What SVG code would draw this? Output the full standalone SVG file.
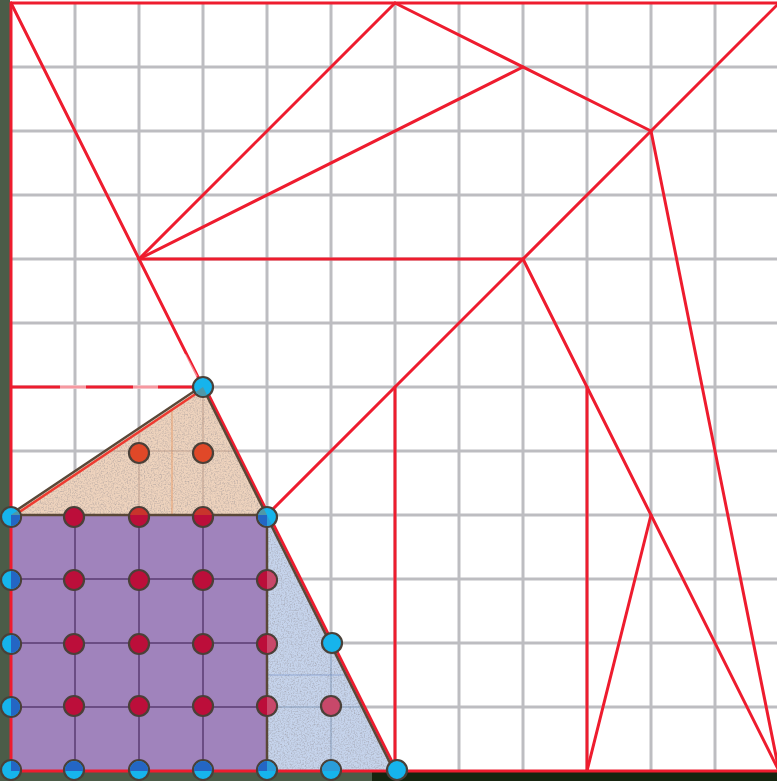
<svg xmlns="http://www.w3.org/2000/svg" width="777" height="781" viewBox="0 0 777 781">
<style>
.grid line{stroke:#bdbdc1;stroke-width:3}
.crease line{stroke:#ee1c2e;stroke-width:3;stroke-linecap:round}
.edge{stroke:#5a4838;stroke-width:2.5;fill:none;stroke-linecap:round}
.inner line{stroke:#6b4d84;stroke-width:2}
.dot{stroke:#4a4038;stroke-width:2.2}
.cy{fill:#16b4ec}
.rd{fill:#bc0e3a}
.or{fill:#e04828}
</style>
<defs>
<clipPath id="cSq"><rect x="11" y="515" width="256" height="256"/></clipPath>
<clipPath id="cBl"><polygon points="267,515 267,771 395,771"/></clipPath>
<clipPath id="cPe"><polygon points="11,515 203,387 267,515"/></clipPath>
<filter id="tex" x="0" y="0" width="100%" height="100%">
<feTurbulence type="fractalNoise" baseFrequency="0.7" numOctaves="2" seed="4" result="n"/>
<feColorMatrix in="n" type="matrix" values="0 0 0 0 0.3  0 0 0 0 0.28  0 0 0 0 0.3  1.4 0 0 0 -0.58" result="m"/>
<feComposite in="m" in2="SourceGraphic" operator="in" result="s"/>
<feMerge><feMergeNode in="SourceGraphic"/><feMergeNode in="s"/></feMerge>
</filter>
</defs>
<rect x="0" y="0" width="777" height="781" fill="#ffffff"/>
<g id="grid" class="grid">
<line x1="75" y1="3" x2="75" y2="771"/><line x1="139" y1="3" x2="139" y2="771"/><line x1="203" y1="3" x2="203" y2="771"/><line x1="267" y1="3" x2="267" y2="771"/><line x1="331" y1="3" x2="331" y2="771"/><line x1="395" y1="3" x2="395" y2="771"/><line x1="459" y1="3" x2="459" y2="771"/><line x1="523" y1="3" x2="523" y2="771"/><line x1="587" y1="3" x2="587" y2="771"/><line x1="651" y1="3" x2="651" y2="771"/><line x1="715" y1="3" x2="715" y2="771"/>
<line x1="11" y1="67" x2="779" y2="67"/><line x1="11" y1="131" x2="779" y2="131"/><line x1="11" y1="195" x2="779" y2="195"/><line x1="11" y1="259" x2="779" y2="259"/><line x1="11" y1="323" x2="779" y2="323"/><line x1="11" y1="387" x2="779" y2="387"/><line x1="11" y1="451" x2="779" y2="451"/><line x1="11" y1="515" x2="779" y2="515"/><line x1="11" y1="579" x2="779" y2="579"/><line x1="11" y1="643" x2="779" y2="643"/><line x1="11" y1="707" x2="779" y2="707"/>
</g>
<g id="connectors" class="crease">
<line x1="11" y1="3" x2="779" y2="3"/>
<line x1="11" y1="3" x2="395" y2="771"/>
<line x1="139" y1="259" x2="395" y2="3"/>
<line x1="139" y1="259" x2="523" y2="67"/>
<line x1="395" y1="3" x2="651" y2="131"/>
<line x1="779" y1="3" x2="267" y2="515"/>
<line x1="139" y1="259" x2="523" y2="259"/>
<line x1="651" y1="131" x2="779" y2="771"/>
<line x1="523" y1="259" x2="779" y2="771"/>
<line x1="587" y1="387" x2="587" y2="771"/>
<line x1="651" y1="515" x2="587" y2="771"/>
<line x1="395" y1="387" x2="395" y2="771"/>
<line x1="11" y1="387" x2="203" y2="387"/>
</g>
<g id="fades" stroke="#ffffff" stroke-width="4" stroke-opacity="0.55">
<line x1="60" y1="387" x2="86" y2="387"/>
<line x1="133" y1="387" x2="158" y2="387"/>
<line x1="184" y1="355" x2="196" y2="377" stroke-opacity="0.5"/>
</g>
<g id="peach">
<polygon points="11,515 203,387 267,515" fill="#eed3bd" filter="url(#tex)"/>
<line x1="172" y1="410" x2="172" y2="515" stroke="#e8a070" stroke-width="1"/>
<line x1="139" y1="432" x2="139" y2="515" stroke="#b09080" stroke-width="1.5" stroke-opacity="0.5"/>
<line x1="203" y1="390" x2="203" y2="515" stroke="#b09080" stroke-width="1.5" stroke-opacity="0.5"/>
<line x1="110" y1="451" x2="235" y2="451" stroke="#b09080" stroke-width="1.5" stroke-opacity="0.5"/>
<line x1="12" y1="517" x2="203" y2="389" stroke="#ee3a30" stroke-width="2.5"/>
<line x1="205" y1="387" x2="269" y2="515" stroke="#ee1c2e" stroke-width="2.5"/>
<polyline class="edge" points="11,514 202,386 266,514"/>
</g>
<g id="lightblue">
<polygon points="267,515 267,771 395,771" fill="#c6d4ec" filter="url(#tex)"/>
<line x1="331" y1="645" x2="331" y2="771" stroke="#7088a8" stroke-width="1.5" stroke-opacity="0.5"/>
<line x1="267" y1="707" x2="363" y2="707" stroke="#7088a8" stroke-width="1.5" stroke-opacity="0.5"/>
<line x1="267" y1="675" x2="347" y2="675" stroke="#6080c0" stroke-width="1" stroke-opacity="0.5"/>
<line x1="269" y1="515" x2="397" y2="771" stroke="#ee1c2e" stroke-width="2.5"/>
<line class="edge" x1="266" y1="515" x2="394" y2="771"/>
</g>
<g id="purple">
<rect x="11" y="515" width="256" height="256" fill="#a083bc"/>
<g class="inner">
<line x1="75" y1="515" x2="75" y2="771"/><line x1="139" y1="515" x2="139" y2="771"/><line x1="203" y1="515" x2="203" y2="771"/>
<line x1="11" y1="579" x2="267" y2="579"/><line x1="11" y1="643" x2="267" y2="643"/><line x1="11" y1="707" x2="267" y2="707"/>
</g>
<polyline class="edge" points="11,515 267,515 267,771"/>
</g>
<rect x="0" y="0" width="10" height="781" fill="#4b5c48"/>
<rect x="0" y="772" width="777" height="9" fill="#4b5c48"/>
<rect x="372" y="772" width="405" height="9" fill="#16240f"/>
<g class="crease">
<line x1="11" y1="3" x2="11" y2="771"/>
<line x1="11" y1="771" x2="779" y2="771"/>
</g>
<g id="dots-red">
<circle class="dot rd" cx="74" cy="517" r="10"/><circle class="dot rd" cx="139" cy="517" r="10"/><circle class="dot rd" cx="203" cy="517" r="10"/>
<circle class="dot rd" cx="74" cy="580" r="10"/><circle class="dot rd" cx="139" cy="580" r="10"/><circle class="dot rd" cx="203" cy="580" r="10"/>
<circle class="dot rd" cx="74" cy="644" r="10"/><circle class="dot rd" cx="139" cy="644" r="10"/><circle class="dot rd" cx="203" cy="644" r="10"/>
<circle class="dot rd" cx="74" cy="706" r="10"/><circle class="dot rd" cx="139" cy="706" r="10"/><circle class="dot rd" cx="203" cy="706" r="10"/>
<circle class="dot rd" cx="267" cy="580" r="10"/><circle class="dot rd" cx="267" cy="644" r="10"/><circle class="dot rd" cx="267" cy="706" r="10"/>
<circle class="dot" cx="331" cy="706" r="10" fill="#c8486a"/>
<g clip-path="url(#cBl)" fill="#c8486a"><circle cx="267" cy="580" r="9"/><circle cx="267" cy="644" r="9"/><circle cx="267" cy="706" r="9"/></g>
<g clip-path="url(#cPe)" fill="#c8342c"><circle cx="139" cy="517" r="9"/><circle cx="203" cy="517" r="9"/></g>
<circle class="dot or" cx="139" cy="453" r="10"/><circle class="dot or" cx="203" cy="453" r="10"/>
</g>
<g id="dots-blue">
<circle class="dot cy" cx="11" cy="517" r="10"/><circle class="dot cy" cx="267" cy="517" r="10"/><circle class="dot cy" cx="203" cy="387" r="10"/>
<circle class="dot cy" cx="11" cy="580" r="10"/><circle class="dot cy" cx="11" cy="644" r="10"/><circle class="dot cy" cx="11" cy="707" r="10"/>
<circle class="dot cy" cx="11" cy="770" r="10"/><circle class="dot cy" cx="74" cy="770" r="10"/><circle class="dot cy" cx="139" cy="770" r="10"/><circle class="dot cy" cx="203" cy="770" r="10"/><circle class="dot cy" cx="267" cy="770" r="10"/><circle class="dot cy" cx="331" cy="770" r="10"/><circle class="dot cy" cx="397" cy="770" r="10"/>
<circle class="dot cy" cx="332" cy="643" r="10"/>
<g clip-path="url(#cSq)" fill="#2466c4">
<circle cx="11" cy="517" r="9"/><circle cx="267" cy="517" r="9"/><circle cx="11" cy="580" r="9"/><circle cx="11" cy="644" r="9"/><circle cx="11" cy="707" r="9"/>
<circle cx="11" cy="770" r="9"/><circle cx="74" cy="770" r="9"/><circle cx="139" cy="770" r="9"/><circle cx="203" cy="770" r="9"/><circle cx="267" cy="770" r="9"/>
</g>
<g clip-path="url(#cBl)" fill="#2a9cd8"><circle cx="267" cy="517" r="9"/><circle cx="267" cy="770" r="9"/><circle cx="331" cy="770" r="9"/></g>
<g clip-path="url(#cPe)" fill="#4e98a8"><circle cx="203" cy="387" r="9"/><circle cx="267" cy="517" r="9"/><circle cx="11" cy="517" r="9"/></g>
</g>
</svg>
